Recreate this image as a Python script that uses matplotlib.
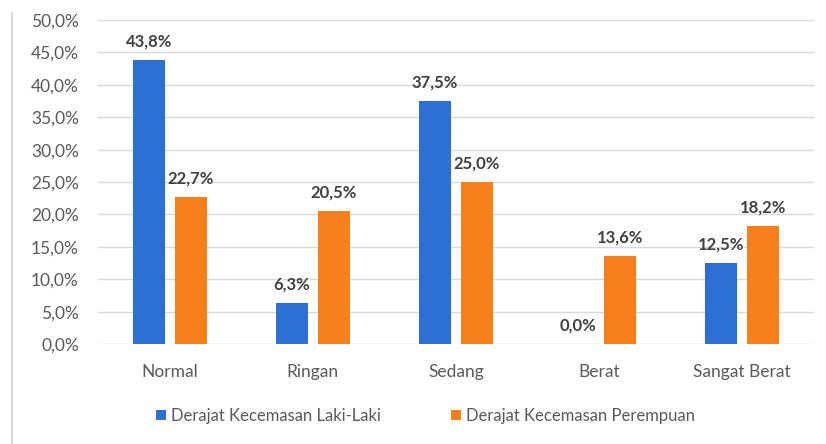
import numpy as np
import matplotlib.pyplot as plt
from matplotlib.ticker import FuncFormatter

plt.rcParams['font.family'] = ['Lato', 'DejaVu Sans']

categories = ["Normal", "Ringan", "Sedang", "Berat", "Sangat Berat"]
laki = [43.8, 6.3, 37.5, 0.0, 12.5]
perempuan = [22.7, 20.5, 25.0, 13.6, 18.2]
series_names = ["Derajat Kecemasan Laki-Laki", "Derajat Kecemasan Perempuan"]

blue = "#2E6FD3"
orange = "#F77F1C"
grey = "#595959"

fig = plt.figure(figsize=(8.26, 4.44), dpi=100)
ax = fig.add_axes([0.119, 0.225, 0.866, 0.73])

x = np.arange(len(categories))
w = 0.225
b1 = ax.bar(x - 0.035 - w / 2, laki, w, color=blue, label=series_names[0], zorder=3)
b2 = ax.bar(x + 0.035 + w / 2, perempuan, w, color=orange, label=series_names[1], zorder=3)

for bars, vals in ((b1, laki), (b2, perempuan)):
    for r, v in zip(bars, vals):
        ax.text(r.get_x() + r.get_width() / 2, v + 1.6, f"{v:.1f}%".replace(".", ","),
                ha="center", va="bottom", fontsize=12, fontweight="bold", color="#404040")

ax.set_xlim(-0.5, len(categories) - 0.5)
ax.set_ylim(0, 50)
ax.set_yticks(np.arange(0, 51, 5))
ax.yaxis.set_major_formatter(FuncFormatter(lambda v, p: f"{v:.1f}%".replace(".", ",")))
ax.set_xticks(x)
ax.set_xticklabels(categories)
ax.tick_params(axis="both", length=0, labelsize=12.5, colors=grey)
ax.tick_params(axis="x", pad=14)
ax.tick_params(axis="y", pad=14)
ax.grid(axis="y", color="#D9D9D9", linewidth=1, zorder=0)
for s in ax.spines.values():
    s.set_visible(False)

ax.legend(loc="upper center", bbox_to_anchor=(0.457, -0.15), ncol=2, frameon=False,
          fontsize=12, handlelength=0.6, handleheight=0.6, handletextpad=0.3,
          columnspacing=4.2, labelcolor=grey)

fig.add_artist(plt.Line2D([0.015, 0.015], [0.0, 0.97], color="#D0D0D0", linewidth=1.2,
                          transform=fig.transFigure))

fig.savefig("out.png", dpi=100)
